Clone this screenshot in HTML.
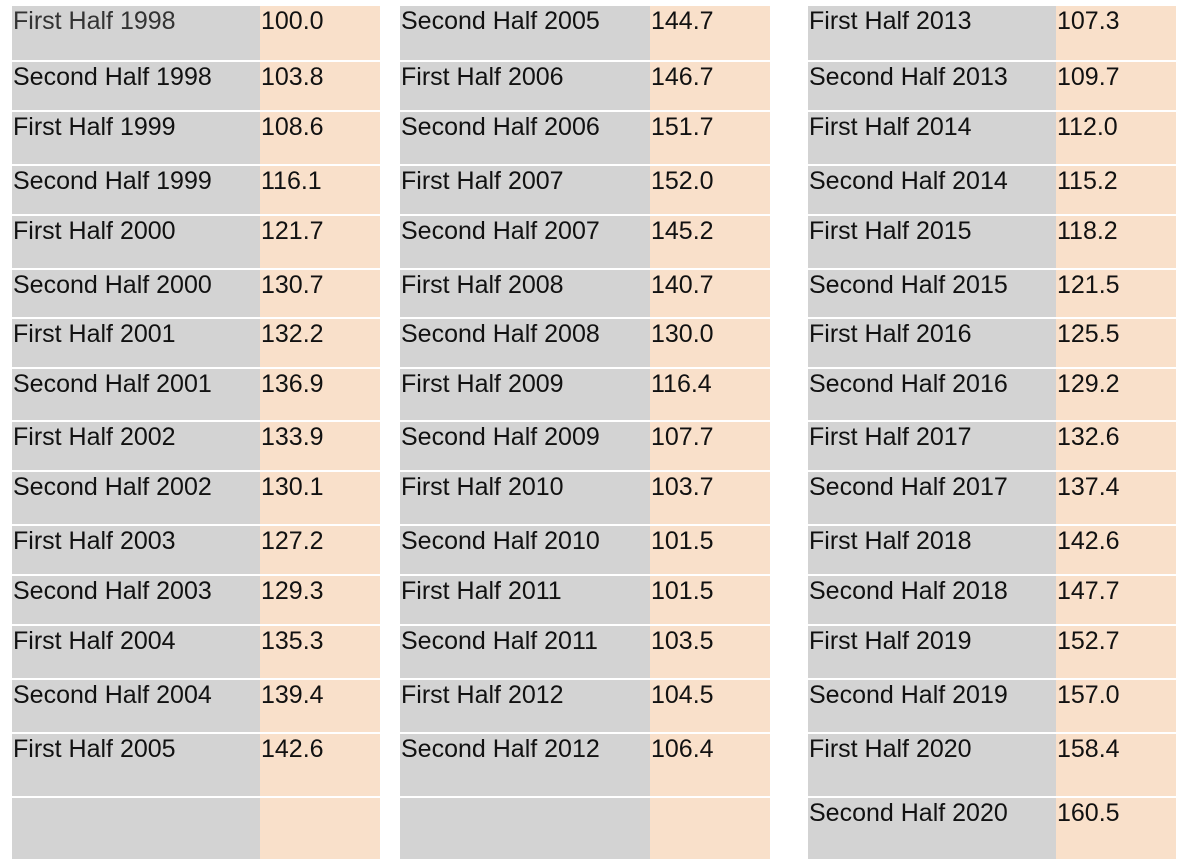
<!DOCTYPE html>
<html><head><meta charset="utf-8">
<style>
body{margin:0;width:1184px;height:864px;background:#fff;position:relative;overflow:hidden;font-family:"Liberation Sans",Arial,sans-serif;}
.c{position:absolute;box-sizing:border-box;}
.g{background:#d3d3d3;}
.p{background:#f9e0ca;}
.t{position:absolute;left:1px;top:3px;font-size:25px;line-height:25px;color:#111;white-space:nowrap;}
</style></head><body>
<div id="tbl"></div>
<script>
const labels=[["First Half 1998","Second Half 1998","First Half 1999","Second Half 1999","First Half 2000","Second Half 2000","First Half 2001","Second Half 2001","First Half 2002","Second Half 2002","First Half 2003","Second Half 2003","First Half 2004","Second Half 2004","First Half 2005",""],
["Second Half 2005","First Half 2006","Second Half 2006","First Half 2007","Second Half 2007","First Half 2008","Second Half 2008","First Half 2009","Second Half 2009","First Half 2010","Second Half 2010","First Half 2011","Second Half 2011","First Half 2012","Second Half 2012",""],
["First Half 2013","Second Half 2013","First Half 2014","Second Half 2014","First Half 2015","Second Half 2015","First Half 2016","Second Half 2016","First Half 2017","Second Half 2017","First Half 2018","Second Half 2018","First Half 2019","Second Half 2019","First Half 2020","Second Half 2020"]];
const values=[["100.0","103.8","108.6","116.1","121.7","130.7","132.2","136.9","133.9","130.1","127.2","129.3","135.3","139.4","142.6",""],
["144.7","146.7","151.7","152.0","145.2","140.7","130.0","116.4","107.7","103.7","101.5","101.5","103.5","104.5","106.4",""],
["107.3","109.7","112.0","115.2","118.2","121.5","125.5","129.2","132.6","137.4","142.6","147.7","152.7","157.0","158.4","160.5"]];
const rows=[6,61,111,165,215,269,318,368,421,471,525,575,625,679,733,797,860];
const cols=[[12,260,380],[400,650,770],[808,1056,1176]];
const root=document.getElementById('tbl');
function cell(x,y,w,h,cls,txt,name){
  const d=document.createElement('div');
  d.className='c '+cls;
  d.style.left=x+'px';d.style.top=y+'px';d.style.width=w+'px';d.style.height=h+'px';
  
  
  if(txt){const s=document.createElement('span');s.className='t';s.textContent=txt;
    if(txt==="First Half 1998")s.style.color='#333';
    
    
    d.appendChild(s);}
  root.appendChild(d);
}
for(let c=0;c<3;c++){
  const [x0,x1,x2]=cols[c];
  for(let r=0;r<16;r++){
    const y=rows[r]+(r>0?1:0), h=rows[r+1]-y-1;
    cell(x0,y,x1-x0,h,'g',labels[c][r],'period-label-cell');
    cell(x1,y,x2-x1,h,'p',values[c][r],'index-value-cell');
  }
}
</script>
</body></html>
